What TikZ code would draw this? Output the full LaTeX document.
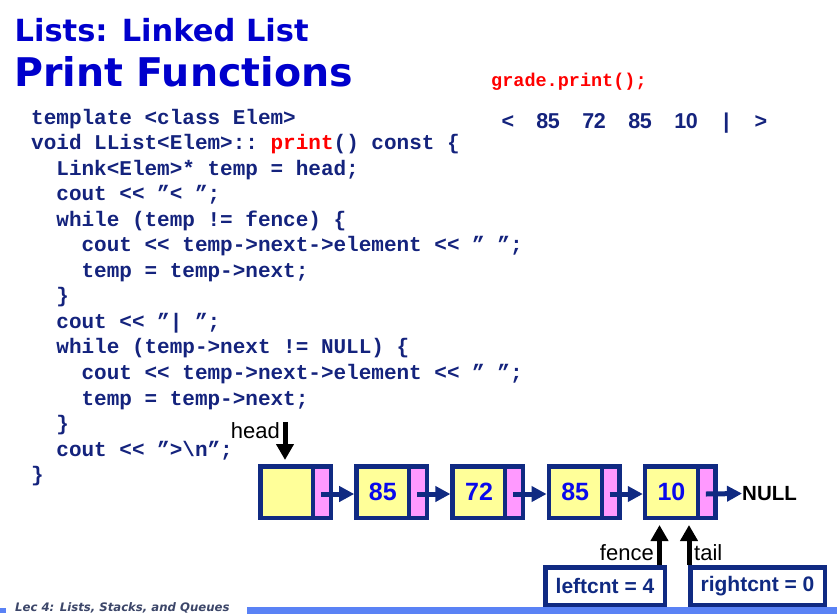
\documentclass[tikz,border=0pt]{standalone}
\usepackage{fontspec}
\setmonofont{Liberation Mono}
\newfontfamily\titlefont{DejaVu Sans}
\newfontfamily\arialfont{Liberation Sans}
\usetikzlibrary{arrows.meta}

\definecolor{titleblue}{RGB}{0,0,204}
\definecolor{codenavy}{RGB}{20,35,125}
\definecolor{boxnavy}{RGB}{16,42,130}
\definecolor{cellyellow}{RGB}{255,255,153}
\definecolor{cellpink}{RGB}{255,153,255}
\definecolor{numblue}{RGB}{10,10,235}
\definecolor{barblue}{RGB}{90,130,245}
\definecolor{footgray}{RGB}{60,70,105}

% one fixed-width cell of the printed output line
\newcommand\outcell[1]{\makebox[11.5pt]{#1}}
% value text of a list cell, centred in the data part
\newcommand\cellval[1]{\makebox[70.5pt][l]{\makebox[52.75pt]{#1}}}

\tikzset{
  codeline/.style={anchor=base west, inner sep=0pt, text=codenavy,
    font=\ttfamily\bfseries\fontsize{21}{25}\selectfont},
  listbox/.style={rectangle, draw=boxnavy, line width=4.5pt, fill=cellyellow,
    minimum width=70.5pt, minimum height=51.5pt, inner sep=0pt,
    text=numblue, font=\arialfont\bfseries\fontsize{25}{30}\selectfont,
    path picture={
      \fill[cellpink] ([xshift=52.75pt]path picture bounding box.south west)
        rectangle (path picture bounding box.north east);
      \draw[boxnavy, line width=4pt]
        ([xshift=52.75pt]path picture bounding box.south west) --
        ([xshift=52.75pt]path picture bounding box.north west);
    }},
  nextarrow/.style={draw=boxnavy, line width=5pt,
    -{Triangle[length=15pt,width=15pt]}},
  ptr/.style={draw=black, line width=5pt,
    -{Triangle[length=16pt,width=17pt]}},
  cntbox/.style={rectangle, draw=boxnavy, line width=4.5pt, fill=white,
    minimum height=37.5pt, inner sep=0pt, text=boxnavy,
    font=\arialfont\bfseries\fontsize{21}{25}\selectfont},
  plainlabel/.style={inner sep=0pt, font=\arialfont\fontsize{22}{26}\selectfont},
}

\begin{document}
\begin{tikzpicture}[x=1pt,y=-1pt]
  \useasboundingbox (0,0) rectangle (837,614);
  \fill[white] (0,0) rectangle (837,614);

  % headings
  \node[anchor=base west, inner sep=0pt, text=titleblue,
        font=\titlefont\bfseries\fontsize{30.5}{36}\selectfont]
        (title1) at (14.5,41) {Lists: Linked List};
  \node[anchor=base west, inner sep=0pt, text=titleblue,
        font=\titlefont\bfseries\fontsize{39.5}{46}\selectfont]
        (title2) at (14,86) {Print Functions};

  % call and its output
  \node[anchor=base west, inner sep=0pt, text=red,
        font=\ttfamily\bfseries\fontsize{18.5}{22}\selectfont]
        (call) at (491,86) {grade.print();};
  \node[anchor=base west, inner sep=0pt, text=codenavy,
        font=\arialfont\bfseries\fontsize{21.5}{25}\selectfont]
        (output) at (502,128) {\outcell{<}\outcell{}\outcell{}\outcell{8}\outcell{5}\outcell{}\outcell{}\outcell{7}\outcell{2}\outcell{}\outcell{}\outcell{8}\outcell{5}\outcell{}\outcell{}\outcell{1}\outcell{0}\outcell{}\outcell{}\outcell{|}\outcell{}\outcell{}\outcell{>}};

  % source code
  \node[codeline] (c1)  at (31,124)    {template <class Elem>};
  \node[codeline] (c2)  at (31,149.55) {void LList<Elem>:: {\color{red}print}() const \{};
  \node[codeline] (c3)  at (56.2,175.1)  {Link<Elem>* temp = head;};
  \node[codeline] (c4)  at (56.2,200.65) {cout << ”< ”;};
  \node[codeline] (c5)  at (56.2,226.2)  {while (temp != fence) \{};
  \node[codeline] (c6)  at (81.4,251.75) {cout << temp->next->element << ” ”;};
  \node[codeline] (c7)  at (81.4,277.3)  {temp = temp->next;};
  \node[codeline] (c8)  at (56.2,302.85) {\}};
  \node[codeline] (c9)  at (56.2,328.4)  {cout << ”| ”;};
  \node[codeline] (c10) at (56.2,353.95) {while (temp->next != NULL) \{};
  \node[codeline] (c11) at (81.4,379.5)  {cout << temp->next->element << ” ”;};
  \node[codeline] (c12) at (81.4,405.05) {temp = temp->next;};
  \node[codeline] (c13) at (56.2,430.6)  {\}};
  \node[codeline] (c14) at (56.2,456.15) {cout << ”>\textbackslash n”;};
  \node[codeline] (c15) at (31,481.7)    {\}};

  % linked list cells
  \node[listbox] (n1) at (295.5,492) {\cellval{}};
  \node[listbox] (n2) at (391.7,492) {\cellval{85}};
  \node[listbox] (n3) at (487.9,492) {\cellval{72}};
  \node[listbox] (n4) at (584.1,492) {\cellval{85}};
  \node[listbox] (n5) at (680.3,492) {\cellval{10}};
  \node[anchor=west, inner sep=0pt,
        font=\arialfont\bfseries\fontsize{20.5}{24}\selectfont]
        (null) at (742,493.5) {NULL};

  \draw[nextarrow] ([xshift=-12pt,yshift=-2pt]n1.east) -- ([yshift=-2pt]n2.west);
  \draw[nextarrow] ([xshift=-12pt,yshift=-2pt]n2.east) -- ([yshift=-2pt]n3.west);
  \draw[nextarrow] ([xshift=-12pt,yshift=-2pt]n3.east) -- ([yshift=-2pt]n4.west);
  \draw[nextarrow] ([xshift=-12pt,yshift=-2pt]n4.east) -- ([yshift=-2pt]n5.west);
  \draw[nextarrow] ([xshift=-12pt,yshift=-2pt]n5.east) -- (null.west);

  % head pointer
  \node[plainlabel, anchor=base east] (head) at (280,438) {head};
  \coordinate (hx) at ([xshift=-10.5pt]n1.north);
  \draw[ptr] (hx |- head.north) -- ([yshift=4pt]hx);

  % counters with fence and tail pointers
  \node[cntbox, minimum width=119.5pt] (leftcnt) at (605,586) {leftcnt = 4};
  \node[cntbox, minimum width=134.5pt] (rightcnt) at (757.5,586) {rightcnt = 0};
  \node[plainlabel, anchor=base east] (fence) at (654,560) {fence};
  \node[plainlabel, anchor=base west] (tail) at (694,560) {tail};
  \coordinate (fx) at ([xshift=-20.8pt]n5.south);
  \coordinate (tx) at ([xshift=8.7pt]n5.south);
  \draw[ptr] (fx |- leftcnt.north) -- ([yshift=-5pt]fx);
  \draw[ptr] (tx |- rightcnt.north) -- ([yshift=-5pt]tx);

  % footer
  \fill[barblue] (0,608) rectangle (6,613);
  \fill[barblue] (247,607) rectangle (837,614);
  \node[anchor=base west, inner sep=0pt, text=footgray,
        font=\titlefont\bfseries\itshape\fontsize{11.7}{14}\selectfont]
        (footer) at (15,611) {Lec 4: Lists, Stacks, and Queues};
\end{tikzpicture}
\end{document}
